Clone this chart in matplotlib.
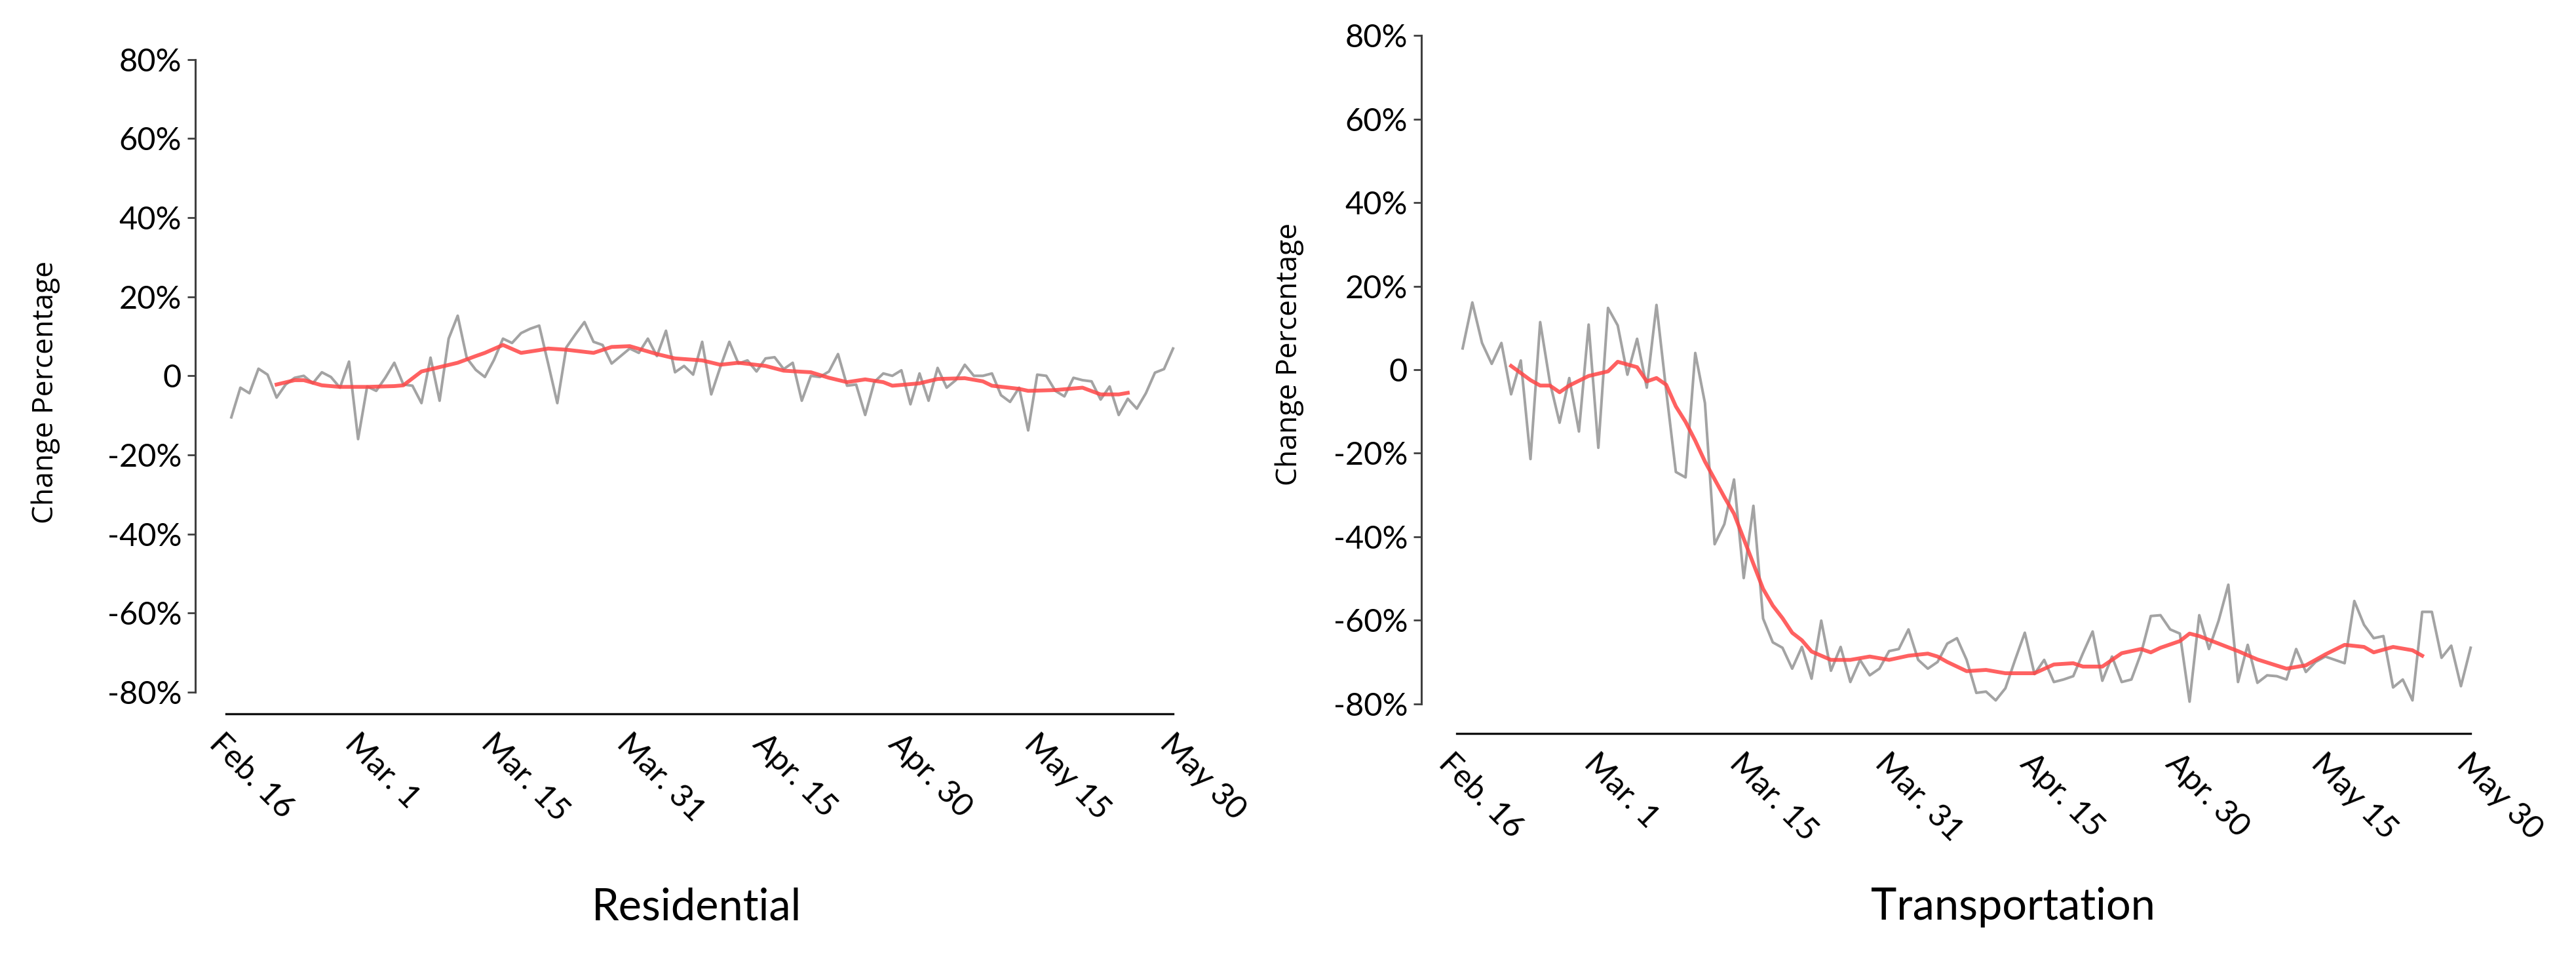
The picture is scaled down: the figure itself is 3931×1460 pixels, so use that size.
import numpy as np
import matplotlib
matplotlib.use("Agg")
import matplotlib.pyplot as plt

# daily change (%) Feb. 16 .. May 30, one value per day
residential = [
    -10.5, -3.0, -4.4, 1.8, 0.3, -5.5, -2.2, -0.5, 0.0, -1.9,
    0.9, -0.3, -3.0, 3.6, -16.0, -2.7, -3.8, -0.5, 3.3, -2.2,
    -2.5, -6.9, 4.6, -6.3, 9.4, 15.2, 4.5, 1.5, -0.3, 4.0,
    9.4, 8.3, 10.8, 11.9, 12.7, 3.0, -6.9, 7.2, 10.5, 13.6,
    8.6, 7.8, 3.1, 5.0, 6.9, 5.8, 9.4, 5.0, 11.4, 0.9,
    2.5, 0.3, 8.6, -4.7, 2.2, 8.6, 3.1, 3.9, 1.1, 4.4,
    4.7, 1.7, 3.3, -6.3, 0.0, -0.3, 1.1, 5.5, -2.5, -2.2,
    -9.9, -1.6, 0.6, 0.0, 1.4, -7.2, 0.6, -6.3, 2.0, -3.0,
    -1.1, 2.8, 0.0, 0.0, 0.6, -4.9, -6.6, -3.0, -13.8, 0.3,
    0.0, -3.8, -5.2, -0.5, -1.1, -1.4, -6.0, -2.7, -9.9, -5.8,
    -8.3, -4.4, 0.8, 1.7, 6.9,
]
transportation = [
    5.1, 16.1, 6.4, 1.4, 6.4, -5.9, 2.2, -21.4, 11.4, -3.0,
    -12.7, -2.0, -14.8, 10.8, -18.7, 14.8, 10.6, -1.2, 7.4, -4.3,
    15.5, -5.0, -24.5, -25.8, 4.0, -8.0, -41.8, -37.0, -26.3, -49.9,
    -32.6, -59.6, -65.3, -66.6, -71.6, -66.4, -74.0, -60.1, -72.1, -66.4,
    -74.8, -69.5, -73.2, -71.6, -67.4, -66.9, -62.2, -69.5, -71.6, -70.0,
    -65.6, -64.3, -69.5, -77.4, -77.1, -79.2, -76.3, -69.5, -63.0, -72.9,
    -69.5, -74.8, -74.2, -73.4, -67.9, -62.7, -74.5, -68.7, -74.8, -74.2,
    -67.9, -59.0, -58.8, -62.2, -63.2, -79.5, -58.8, -66.9, -60.1, -51.5,
    -74.8, -65.9, -75.0, -73.2, -73.4, -74.2, -66.9, -72.4, -70.0, -68.7,
    -69.5, -70.3, -55.4, -61.1, -64.3, -63.8, -76.1, -74.2, -79.2, -58.0,
    -58.0, -69.0, -66.1, -75.8, -66.6,
]

# smoothed trend (red line)
res_trend_days = [5, 7, 8, 10, 12, 15, 18, 19, 21, 23, 25, 27, 28, 30, 32, 34, 35,
                  37, 40, 42, 44, 47, 49, 52, 54, 56, 59, 61, 64, 66, 68, 70, 72,
                  73, 76, 78, 81, 83, 84, 87, 88, 91, 94, 96, 98, 99]
res_trend = [-2.2, -1.1, -1.1, -2.4, -2.8, -2.8, -2.6, -2.4, 1.1, 2.2, 3.3, 5.0, 5.8,
             7.8, 5.8, 6.5, 6.9, 6.6, 5.8, 7.3, 7.5, 5.5, 4.4, 3.9, 2.8, 3.3, 2.5,
             1.3, 0.9, -0.5, -1.6, -0.9, -1.6, -2.5, -1.9, -0.8, -0.6, -1.4, -2.5,
             -3.3, -3.8, -3.6, -3.0, -4.7, -4.7, -4.3]
trans_trend_days = [5, 7, 8, 9, 10, 11, 13, 15, 16, 18, 19, 20, 21, 22, 23, 24, 25,
                    27, 28, 29, 31, 32, 33, 34, 35, 36, 38, 40, 42, 44, 46, 48, 49,
                    50, 52, 54, 56, 59, 61, 63, 64, 66, 68, 70, 71, 72, 74, 75, 76,
                    78, 80, 82, 85, 87, 89, 91, 93, 94, 96, 98, 99]
trans_trend = [0.9, -2.5, -3.8, -3.8, -5.4, -3.8, -1.5, -0.4, 1.9, 0.6, -2.8, -2.0,
               -3.6, -8.8, -12.5, -17.0, -22.0, -30.5, -34.5, -40.5, -52.5, -56.5,
               -59.5, -63.0, -64.8, -67.5, -69.5, -69.5, -68.7, -69.5, -68.5, -68.0,
               -68.7, -70.0, -72.2, -71.9, -72.7, -72.7, -70.6, -70.3, -71.1, -71.1,
               -67.9, -66.9, -67.7, -66.6, -65.0, -63.2, -63.8, -65.6, -67.4, -69.4,
               -71.6, -70.8, -68.2, -65.9, -66.4, -67.7, -66.4, -67.2, -68.5]

date_labels = ['Feb. 16', 'Mar. 1', 'Mar. 15', 'Mar. 31', 'Apr. 15', 'Apr. 30',
               'May 15', 'May 30']
y_ticks = [-80, -60, -40, -20, 0, 20, 40, 60, 80]
y_labels = ['-80%', '-60%', '-40%', '-20%', '0', '20%', '40%', '60%', '80%']

W, H = 3931, 1460
fig = plt.figure(figsize=(W / 100, H / 100), dpi=100)
days = np.arange(len(residential))


def panel(rect, daily, tdays, trend, xleft, drop, title, title_x, ylab_x, ylab_y):
    ax = fig.add_axes(rect)
    ax.plot(days, daily, color='#a3a3a3', lw=2.9)
    ax.plot(tdays, trend, color='#ff4545', lw=4.2, alpha=0.85)
    ax.set_xlim(xleft, 104.5)
    ax.set_ylim(-80, 80)
    for s in ['top', 'right']:
        ax.spines[s].set_visible(False)
    ax.spines['left'].set_color('#404040')
    ax.spines['left'].set_linewidth(2.2)
    ax.spines['bottom'].set_position(('outward', drop))
    ax.spines['bottom'].set_bounds(-0.6, 104)
    ax.spines['bottom'].set_linewidth(2.4)
    ax.spines['bottom'].set_color('#111111')
    ax.set_yticks(y_ticks, y_labels, fontsize=35, family='Lato')
    ax.tick_params(axis='y', length=9, width=2, color='#404040', pad=6)
    ax.set_xticks(np.linspace(-3, 102, len(date_labels)))
    ax.set_xticklabels(date_labels, rotation=-45, ha='left', va='top',
                       fontsize=35, family='Lato')
    ax.tick_params(axis='x', length=0, pad=16)
    fig.text(title_x, 0.052, title, ha='center', va='center', fontsize=48,
             family='Lato')
    fig.text(ylab_x, ylab_y, 'Change Percentage', rotation=90, ha='center',
             va='center', fontsize=32, family='Open Sans')
    return ax


panel([298 / W, 1 - 1056 / H, (1797 - 298) / W, (1056 - 90.7) / H],
      residential, res_trend_days, res_trend, -3.98, 24,
      'Residential', 1063 / W, 70 / W, 1 - 598 / H)
panel([2169 / W, 1 - 1073.6 / H, (3777.6 - 2169) / W, (1073.6 - 54.4) / H],
      transportation, trans_trend_days, trans_trend, -4.26, 33,
      'Transportation', 3072 / W, 1968 / W, 1 - 540 / H)

fig.savefig('out.png', dpi=100, facecolor='white')
